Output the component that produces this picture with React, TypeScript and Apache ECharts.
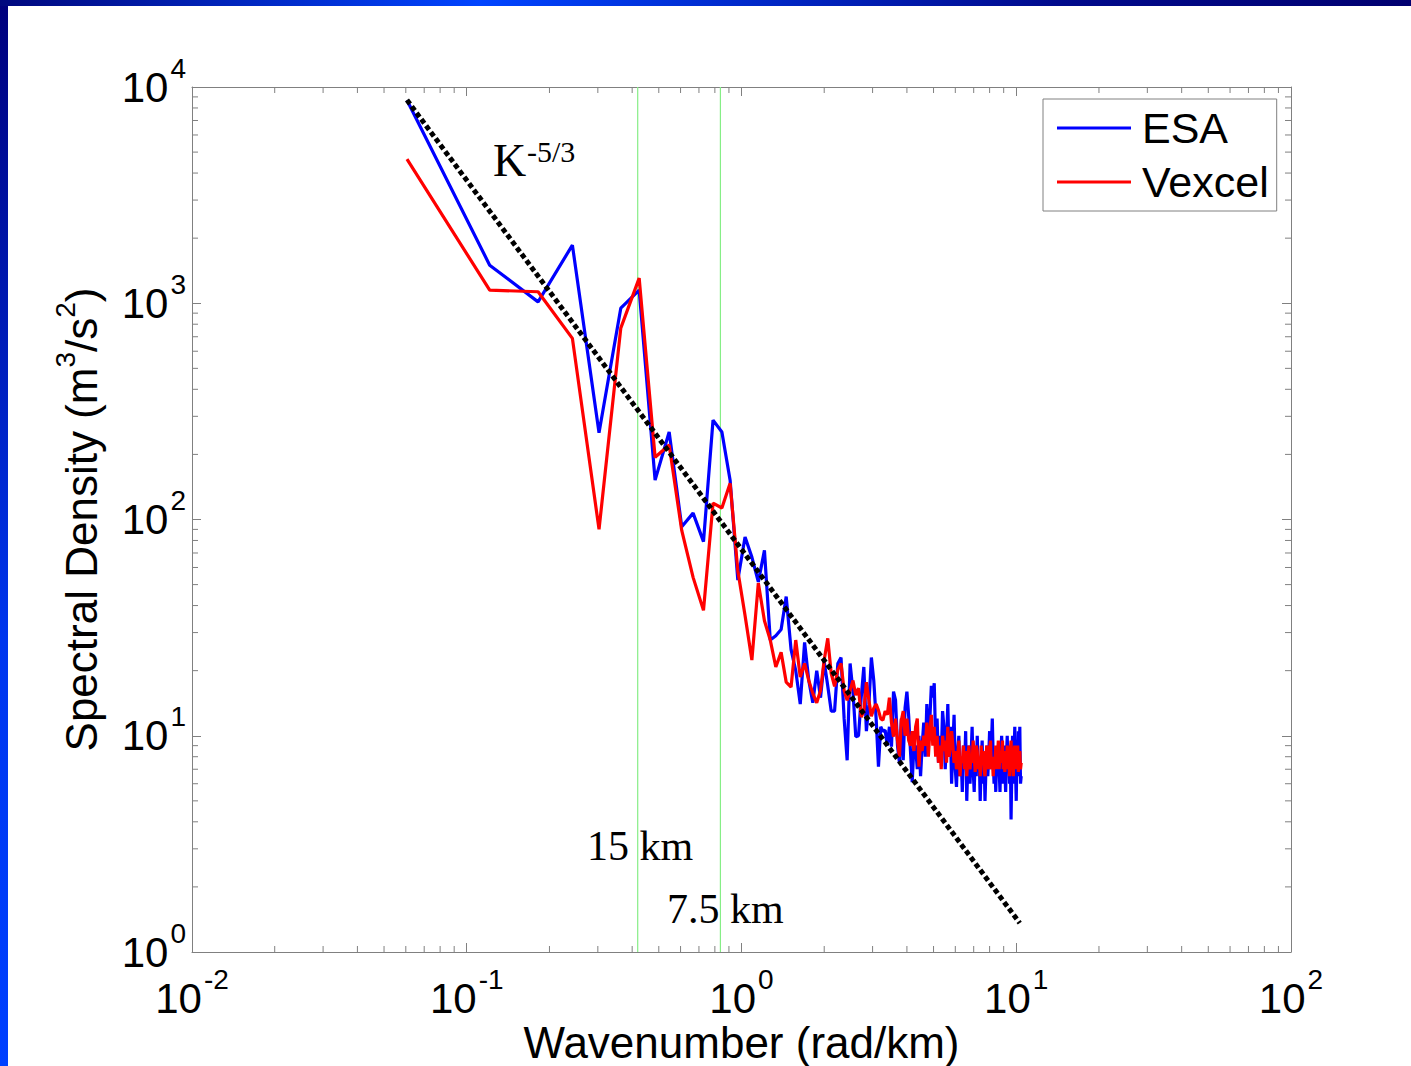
import React, { useEffect, useRef } from 'react';
import * as echarts from 'echarts';

// spectral bin spacing (rad/km); bin n sits at n * WAVENUMBER_STEP
const WAVENUMBER_STEP = 0.0606;

const ESA_PSD = [
  8690, 1500, 1015, 1857, 252, 949, 1150, 152, 254, 92.5,
  107, 79, 288, 254, 152, 52.5, 83, 67, 51.5, 72,
  27.7, 29, 31, 44, 25, 20, 14, 27, 18, 14.2,
  20, 15, 22, 17, 13, 13, 21.6, 23, 12, 7.7,
  21.6, 16, 9.9, 10, 15, 20.8, 10.5, 14, 23, 18,
  12, 7.2, 11, 10.5, 10.6, 9, 11, 8.9, 16, 14.6,
  9, 7.5, 12, 7.7, 13.5, 16, 12.3, 8.5, 6.1, 9,
  8.9, 7, 10, 6.5, 9, 11.5, 8, 14, 10, 12,
  17, 15, 17.5, 9, 12, 7.5, 10, 8, 13, 11,
  7, 9.5, 14, 8, 11, 6, 9, 12.5, 7, 5.8,
  8.5, 10, 6.5, 8, 5.5, 9, 7, 10.5, 5, 7.5,
  9, 6, 8, 11, 7, 5.5, 8.5, 6.5, 10, 7,
  8, 5, 7.5, 9.5, 6, 8, 5, 7, 9, 6.5,
  8, 10.5, 7, 9, 12, 8, 6, 7.5, 5.5, 8,
  6.5, 9, 7, 5.5, 8, 10, 7.5, 6, 9, 7,
  5.5, 8, 10, 7, 9, 6, 8.5, 4.1, 7, 10,
  6, 8, 11, 7, 5, 8.5, 6.5, 10.5, 7, 11, 6, 6.5,
];

const VEXCEL_PSD = [
  4640, 1150, 1130, 688, 90, 767, 1306, 194, 221, 89,
  54, 38, 119, 113, 147, 58, 36, 22.4, 50.8, 34,
  27.7, 20.8, 24.3, 17.7, 16.8, 27.7, 18.7, 21.6, 18, 15.7,
  14.2, 16.2, 22.4, 28.2, 19.4, 16.9, 20.2, 21.6, 16.2, 14.6,
  16.2, 18, 15.4, 16.6, 12.2, 13, 17.7, 14.6, 12.3, 13.4,
  14, 13.1, 12, 11.8, 13, 12.5, 15, 11.5, 9.9, 12,
  9.5, 8, 11.8, 13, 10, 12, 9.5, 9, 10.5, 8.5,
  11, 12, 7.2, 9.5, 8.5, 10, 9, 11.5, 8, 10.5,
  12.5, 9, 11, 8, 10, 7.5, 9, 7, 10, 8.5,
  9.5, 7.5, 11, 8, 9, 10.5, 9, 7.5, 8.5, 7,
  8, 9.5, 6.5, 8, 7.5, 9, 7, 8.5, 6.5, 8,
  9, 7, 8, 7.5, 9.5, 8, 6.8, 9, 8.5, 7,
  8, 6.5, 9, 7.5, 8.5, 7, 6.5, 8, 9, 7.5,
  7, 8.5, 9.5, 7, 8, 6.5, 8, 7.5, 9, 7,
  8, 9.5, 7, 8.5, 7.5, 8, 9.5, 7, 8, 6.8,
  8.5, 7.5, 9, 7, 8, 6.5, 8.5, 9.5, 7, 7.5,
  6.5, 8.5, 9, 7, 8, 7.5, 9, 6.8, 8, 8.5, 7, 7.5,
];

// K^-5/3 reference line end points
const SLOPE_K = [0.0606, 10.3];
const SLOPE_PSD = [8700, 1.36];

// 15 km and 7.5 km wavelengths
const CUTOFF_K = [0.419, 0.838];
const CUTOFF_LABELS = ['15 km', '7.5 km'];

const X_RANGE = [0.01, 100];
const Y_RANGE = [1, 10000];
const MINOR_STEPS = [2, 3, 4, 5, 6, 7, 8, 9];
const X_DECADES = [0.01, 0.1, 1, 10];
const Y_DECADES = [1, 10, 100, 1000];

const SANS = '"Liberation Sans", Arial, sans-serif';
const SERIF = '"Liberation Serif", "Times New Roman", serif';
const GREY = '#808080';

const expLabel = (v: number) => `{b|10}{s|${Math.round(Math.log10(v))}}`;

const yLabelRich = {
  b: { fontSize: 42, fontFamily: SANS, color: '#000', lineHeight: 66 },
  s: { fontSize: 28, fontFamily: SANS, color: '#000', lineHeight: 28, verticalAlign: 'top', padding: [0, 0, 0, 2] },
};

const xLabelRich = {
  b: { fontSize: 42, fontFamily: SANS, color: '#000', lineHeight: 54, verticalAlign: 'bottom' },
  s: { fontSize: 28, fontFamily: SANS, color: '#000', lineHeight: 28, verticalAlign: 'top', padding: [0, 0, 0, 2] },
};

export default function App() {
  const ref = useRef<HTMLDivElement>(null);

  useEffect(() => {
    if (!ref.current) return;
    const chart = echarts.init(ref.current, undefined, { renderer: 'svg' });

    const baseAxis = {
      type: 'log' as const,
      logBase: 10,
      splitNumber: 4,
      splitLine: { show: false },
      axisLine: { show: true, lineStyle: { color: GREY, width: 1 } },
      axisTick: { show: true, inside: true, length: 9, lineStyle: { color: GREY, width: 1 } },
      minorTick: { show: false },
    };

    const xMinor = X_DECADES.flatMap((d) => MINOR_STEPS.map((m) => [d * m, Y_RANGE[0]]));
    const yMinor = Y_DECADES.flatMap((d) => MINOR_STEPS.map((m) => [X_RANGE[0], d * m]));

    const option: any = {
      animation: false,
      backgroundColor: '#ffffff',
      grid: { left: 192, top: 87, width: 1099, height: 865, containLabel: false, outerBoundsMode: 'none' },
      xAxis: [
        {
          ...baseAxis,
          position: 'bottom',
          min: X_RANGE[0],
          max: X_RANGE[1],
          axisLabel: { formatter: expLabel, margin: 13, rich: xLabelRich },
          name: 'Wavenumber (rad/km)',
          nameLocation: 'middle',
          nameGap: 68,
          nameMoveOverlap: false,
          nameTextStyle: { fontSize: 44, fontFamily: SANS, color: '#000', lineHeight: 44 },
        },
        {
          ...baseAxis,
          position: 'top',
          min: X_RANGE[0],
          max: X_RANGE[1],
          axisLabel: { show: false },
        },
      ],
      yAxis: [
        {
          ...baseAxis,
          position: 'left',
          min: Y_RANGE[0],
          max: Y_RANGE[1],
          axisLabel: { formatter: expLabel, margin: 6, rich: yLabelRich },
          name: '{t|Spectral Density (m}{s|3}{t|/s}{s|2}{t|)}',
          nameLocation: 'middle',
          nameRotate: 90,
          nameGap: 81,
          nameMoveOverlap: false,
          nameTextStyle: {
            color: '#000',
            rich: {
              t: { fontSize: 44, fontFamily: SANS, color: '#000', lineHeight: 60 },
              s: { fontSize: 28, fontFamily: SANS, color: '#000', lineHeight: 28, verticalAlign: 'top' },
            },
          },
        },
        {
          ...baseAxis,
          position: 'right',
          min: Y_RANGE[0],
          max: Y_RANGE[1],
          axisLabel: { show: false },
        },
      ],
      legend: {
        orient: 'vertical',
        left: 1043,
        top: 99,
        padding: [7, 8, 7, 14],
        itemGap: 10,
        itemWidth: 74,
        itemHeight: 3,
        borderColor: GREY,
        borderWidth: 1,
        backgroundColor: '#ffffff',
        data: [
          { name: 'ESA', icon: 'rect' },
          { name: 'Vexcel', icon: 'rect' },
        ],
        textStyle: { fontSize: 43, fontFamily: SANS, color: '#000', lineHeight: 44, padding: [0, 0, 0, 6] },
      },
      graphic: [
        {
          type: 'rect',
          shape: { x: 0, y: 0, width: 8, height: 1066 },
          style: {
            fill: new echarts.graphic.LinearGradient(0, 0, 0, 1, [
              { offset: 0, color: '#00007c' },
              { offset: 0.6, color: '#0036ee' },
              { offset: 1, color: '#0040ff' },
            ]),
          },
          silent: true,
          z: 100,
        },
        {
          type: 'rect',
          shape: { x: 0, y: 0, width: 1411, height: 6 },
          style: {
            fill: new echarts.graphic.LinearGradient(0, 0, 1, 0, [
              { offset: 0, color: '#00087e' },
              { offset: 0.34, color: '#0044ff' },
              { offset: 0.75, color: '#000a8c' },
              { offset: 1, color: '#000070' },
            ]),
          },
          silent: true,
          z: 100,
        },
        {
          type: 'text',
          x: 493,
          y: 160,
          style: { text: 'K', fontSize: 46, fontFamily: SERIF, fill: '#000', align: 'left', verticalAlign: 'middle' },
          z: 50,
        },
        {
          type: 'text',
          x: 527,
          y: 151,
          style: { text: '-5/3', fontSize: 30, fontFamily: SERIF, fill: '#000', align: 'left', verticalAlign: 'middle' },
          z: 50,
        },
        {
          type: 'text',
          x: 587,
          y: 846,
          style: { text: CUTOFF_LABELS[0], fontSize: 42, fontFamily: SERIF, fill: '#000', align: 'left', verticalAlign: 'middle' },
          z: 50,
        },
        {
          type: 'text',
          x: 667,
          y: 909,
          style: { text: CUTOFF_LABELS[1], fontSize: 42, fontFamily: SERIF, fill: '#000', align: 'left', verticalAlign: 'middle' },
          z: 50,
        },
      ],
      series: [
        ...CUTOFF_K.map((k, i) => ({
          name: CUTOFF_LABELS[i],
          type: 'line',
          data: [
            [k, Y_RANGE[0]],
            [k, Y_RANGE[1]],
          ],
          symbol: 'none',
          silent: true,
          lineStyle: { color: '#86ee86', width: 1.2 },
          z: 1,
        })),
        {
          name: 'ESA',
          type: 'line',
          data: ESA_PSD.map((v, i) => [(i + 1) * WAVENUMBER_STEP, v]),
          symbol: 'none',
          lineStyle: { color: '#0000ff', width: 3.2 },
          itemStyle: { color: '#0000ff' },
          z: 3,
        },
        {
          name: 'Vexcel',
          type: 'line',
          data: VEXCEL_PSD.map((v, i) => [(i + 1) * WAVENUMBER_STEP, v]),
          symbol: 'none',
          lineStyle: { color: '#ff0000', width: 3.2 },
          itemStyle: { color: '#ff0000' },
          z: 4,
        },
        {
          name: 'K-5/3',
          type: 'line',
          data: SLOPE_K.map((k, i) => [k, SLOPE_PSD[i]]),
          symbol: 'none',
          lineStyle: { color: '#000', width: 5, type: [5, 3] },
          z: 5,
        },
        {
          name: 'xMinor',
          type: 'custom',
          data: xMinor,
          silent: true,
          encode: { x: 0, y: 1 },
          renderItem: (_p: any, api: any) => {
            const x = api.value(0);
            const b = api.coord([x, Y_RANGE[0]]);
            const t = api.coord([x, Y_RANGE[1]]);
            return {
              type: 'group',
              children: [
                { type: 'line', shape: { x1: b[0], y1: b[1], x2: b[0], y2: b[1] - 6 }, style: { stroke: GREY, lineWidth: 1 } },
                { type: 'line', shape: { x1: t[0], y1: t[1], x2: t[0], y2: t[1] + 6 }, style: { stroke: GREY, lineWidth: 1 } },
              ],
            };
          },
          z: 2,
        },
        {
          name: 'yMinor',
          type: 'custom',
          data: yMinor,
          silent: true,
          encode: { x: 0, y: 1 },
          renderItem: (_p: any, api: any) => {
            const y = api.value(1);
            const l = api.coord([X_RANGE[0], y]);
            const r = api.coord([X_RANGE[1], y]);
            return {
              type: 'group',
              children: [
                { type: 'line', shape: { x1: l[0], y1: l[1], x2: l[0] + 6, y2: l[1] }, style: { stroke: GREY, lineWidth: 1 } },
                { type: 'line', shape: { x1: r[0], y1: r[1], x2: r[0] - 6, y2: r[1] }, style: { stroke: GREY, lineWidth: 1 } },
              ],
            };
          },
          z: 2,
        },
      ],
    };

    chart.setOption(option);
    return () => chart.dispose();
  }, []);

  return (
    <div
      ref={ref}
      style={{ position: 'fixed', left: 0, top: 0, width: 1411, height: 1066, background: '#fff' }}
    />
  );
}
